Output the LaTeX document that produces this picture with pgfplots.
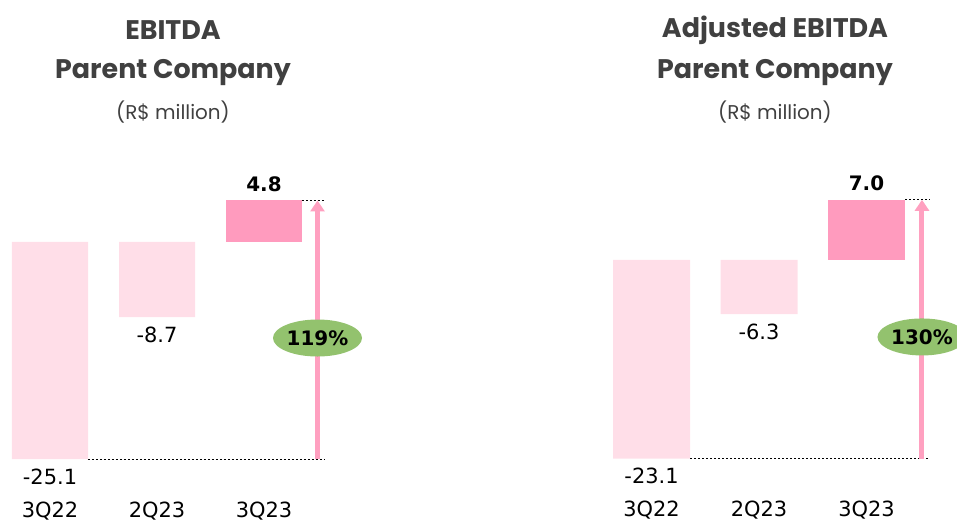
\documentclass[border=0pt]{standalone}
\usepackage{pgfplots}
\pgfplotsset{compat=1.18}
\usepackage{fontspec}
\setmainfont{Poppins}
\newfontfamily\dv{DejaVu Sans}
\usetikzlibrary{arrows.meta,shapes.geometric}
\definecolor{lightpink}{RGB}{255,222,232}
\definecolor{darkpink}{RGB}{255,155,190}
\definecolor{arrowpink}{RGB}{255,160,192}
\definecolor{pctgreen}{RGB}{147,194,110}
\definecolor{titlegray}{RGB}{64,64,64}
\begin{document}
\begin{tikzpicture}[x=1bp,y=1bp]
\useasboundingbox (0,0) rectangle (957,522);
% titles
\node[font=\fontsize{27}{30}\selectfont\bfseries, text=titlegray] at (173,492) {EBITDA};
\node[font=\fontsize{27}{30}\selectfont\bfseries, text=titlegray] at (173,449) {Parent Company};
\node[font=\fontsize{20}{24}\selectfont, text=titlegray] at (173,410) {(R\$ million)};
\node[font=\fontsize{27}{30}\selectfont\bfseries, text=titlegray] at (775,492) {Adjusted EBITDA};
\node[font=\fontsize{27}{30}\selectfont\bfseries, text=titlegray] at (775,449) {Parent Company};
\node[font=\fontsize{20}{24}\selectfont, text=titlegray] at (775,410) {(R\$ million)};

\pgfplotsset{wfall/.style={
  anchor=south west, scale only axis, clip=false,
  xmin=-0.4, xmax=2.7,
  axis line style={draw=none}, tick style={draw=none},
  ymajorticks=false,
  xtick={0,1,2}, xticklabels={3Q22,2Q23,3Q23},
  xticklabel style={font=\dv\fontsize{21}{24}\selectfont, anchor=north, inner sep=0pt, text=black},
}}

% ---------- left panel ----------
\begin{axis}[wfall, at={(7.2bp,20.5bp)}, width=331.7bp, height=311.4bp, ymin=-30, ymax=6]
\addplot[ybar, bar width=76bp, bar shift=0pt, fill=lightpink, draw=none,
  point meta=explicit symbolic, nodes near coords,
  every node near coord/.append style={font=\dv\fontsize{21}{24}\selectfont, anchor=north, yshift=-6bp, text=black}]
  coordinates {(0,-25.1) [-25.1] (1,-8.7) [-8.7]};
\addplot[ybar, bar width=76bp, bar shift=0pt, fill=darkpink, draw=none,
  point meta=explicit symbolic, nodes near coords,
  every node near coord/.append style={font=\dv\bfseries\fontsize{20}{24}\selectfont, anchor=south, yshift=5bp, text=black}]
  coordinates {(2,4.8) [4.8]};
\addplot[black, line width=0.8bp, dash pattern=on 2bp off 2bp] coordinates {(0.355,-25.1) (2.57,-25.1)};
\addplot[black, line width=0.8bp, dash pattern=on 2bp off 2bp] coordinates {(2.355,4.8) (2.57,4.8)};
\addplot[arrowpink, line width=5bp, -{Triangle[width=14bp,length=11bp]}] coordinates {(2.5,-25.1) (2.5,4.8)};
\node[ellipse, fill=pctgreen, minimum width=89bp, minimum height=37bp, inner sep=0pt,
  font=\dv\bfseries\fontsize{20}{24}\selectfont] at (axis cs:2.5,-11.1) {119\%};
\end{axis}

% ---------- right panel ----------
\begin{axis}[wfall, at={(608.5bp,21.2bp)}, width=333.25bp, height=318.2bp, ymin=-28, ymax=9]
\addplot[ybar, bar width=77bp, bar shift=0pt, fill=lightpink, draw=none,
  point meta=explicit symbolic, nodes near coords,
  every node near coord/.append style={font=\dv\fontsize{21}{24}\selectfont, anchor=north, yshift=-6bp, text=black}]
  coordinates {(0,-23.1) [-23.1] (1,-6.3) [-6.3]};
\addplot[ybar, bar width=77bp, bar shift=0pt, fill=darkpink, draw=none,
  point meta=explicit symbolic, nodes near coords,
  every node near coord/.append style={font=\dv\bfseries\fontsize{20}{24}\selectfont, anchor=south, yshift=5bp, text=black}]
  coordinates {(2,7.0) [7.0]};
\addplot[black, line width=0.8bp, dash pattern=on 2bp off 2bp] coordinates {(0.358,-23.1) (2.59,-23.1)};
\addplot[black, line width=0.8bp, dash pattern=on 2bp off 2bp] coordinates {(2.358,7.0) (2.59,7.0)};
\addplot[arrowpink, line width=5bp, -{Triangle[width=14bp,length=11bp]}] coordinates {(2.516,-23.1) (2.516,7.0)};
\node[ellipse, fill=pctgreen, minimum width=89bp, minimum height=37bp, inner sep=0pt,
  font=\dv\bfseries\fontsize{20}{24}\selectfont] at (axis cs:2.516,-8.95) {130\%};
\end{axis}
\end{tikzpicture}
\end{document}
